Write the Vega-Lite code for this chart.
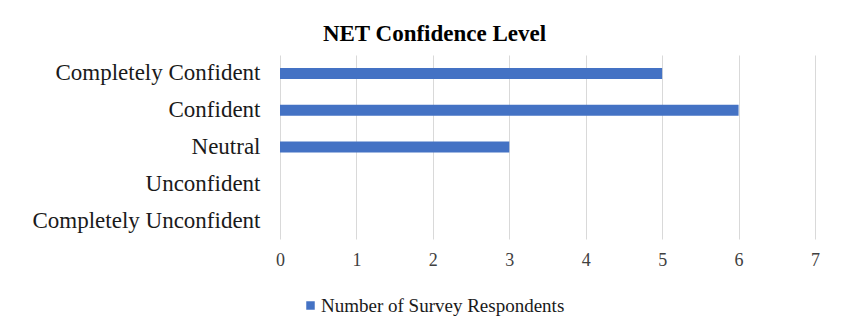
{
  "$schema": "https://vega.github.io/schema/vega-lite/v6.json",
  "autosize": {"type": "none"},
  "padding": {"left": 280, "top": 55, "right": 32, "bottom": 93},
  "width": 535,
  "height": 184,
  "background": "white",
  "title": {
    "text": "NET Confidence Level",
    "font": "Liberation Serif",
    "fontSize": 23,
    "fontWeight": "bold",
    "color": "#000000",
    "anchor": "middle",
    "dx": -113,
    "offset": 9
  },
  "data": {
    "values": [
      {"level": "Completely Confident", "count": 5, "series": "Number of Survey Respondents"},
      {"level": "Confident", "count": 6, "series": "Number of Survey Respondents"},
      {"level": "Neutral", "count": 3, "series": "Number of Survey Respondents"},
      {"level": "Unconfident", "count": 0, "series": "Number of Survey Respondents"},
      {"level": "Completely Unconfident", "count": 0, "series": "Number of Survey Respondents"}
    ]
  },
  "mark": {"type": "bar"},
  "encoding": {
    "y": {
      "field": "level",
      "type": "nominal",
      "sort": ["Completely Confident", "Confident", "Neutral", "Unconfident", "Completely Unconfident"],
      "scale": {"paddingInner": 0.7, "paddingOuter": 0.35},
      "axis": {
        "title": null,
        "domain": false,
        "ticks": false,
        "labelFont": "Liberation Serif",
        "labelFontSize": 23,
        "labelColor": "#1a1a1a",
        "labelPadding": 20,
        "labelLimit": 400
      }
    },
    "x": {
      "field": "count",
      "type": "quantitative",
      "scale": {"domain": [0, 7], "nice": false},
      "axis": {
        "title": null,
        "values": [0, 1, 2, 3, 4, 5, 6, 7],
        "domain": false,
        "ticks": false,
        "grid": true,
        "gridColor": "#d9d9d9",
        "gridWidth": 1,
        "labelFlush": false,
        "labelFont": "Liberation Serif",
        "labelFontSize": 18,
        "labelColor": "#404040",
        "labelPadding": 12
      }
    },
    "color": {
      "field": "series",
      "type": "nominal",
      "scale": {"range": ["#4472C4"]},
      "legend": {
        "title": null,
        "orient": "none",
        "legendX": 21,
        "legendY": 241,
        "symbolType": "square",
        "symbolSize": 72,
        "symbolOpacity": 1,
        "labelFont": "Liberation Serif",
        "labelFontSize": 19,
        "labelColor": "#1a1a1a",
        "labelOffset": 1,
        "labelLimit": 400
      }
    }
  },
  "config": {
    "view": {"stroke": null}
  }
}
